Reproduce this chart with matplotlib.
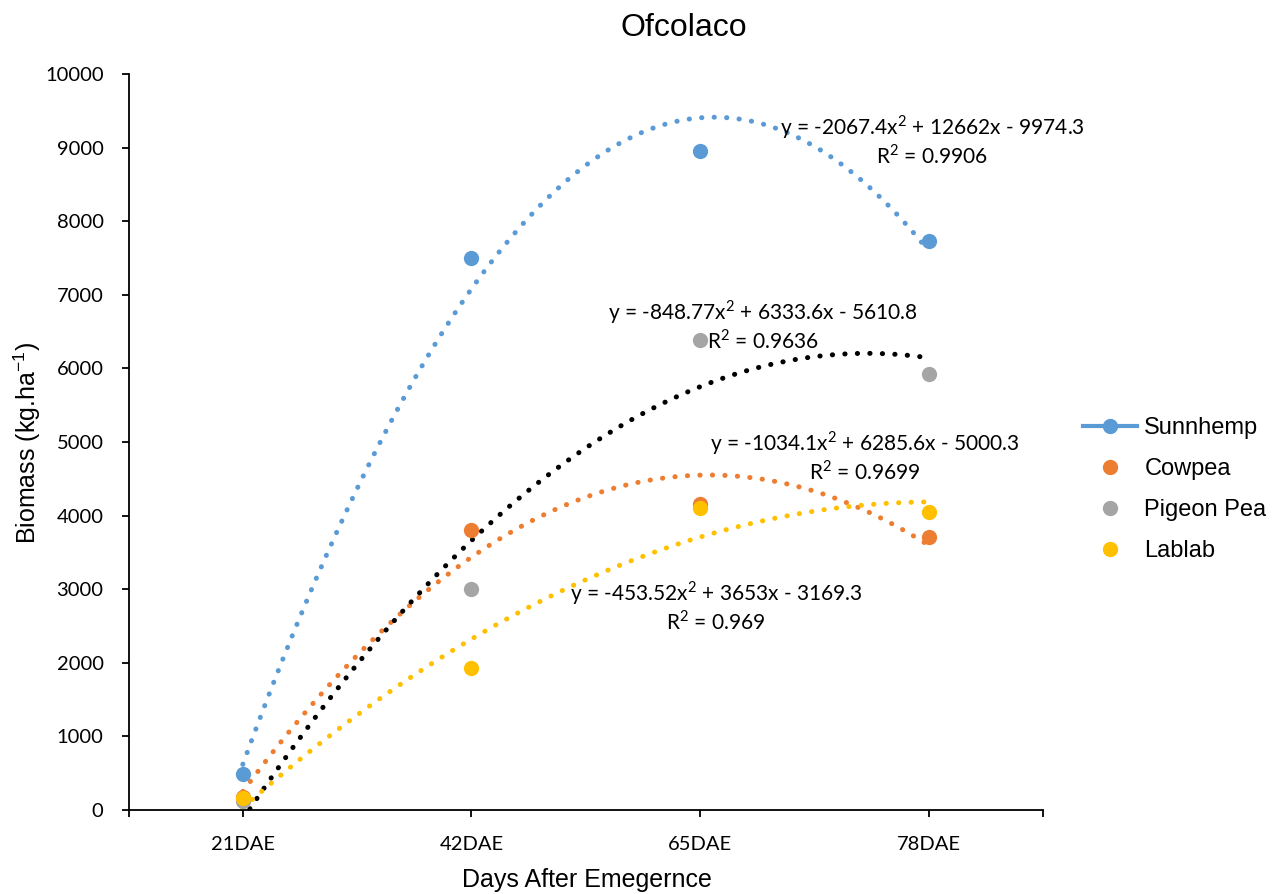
import matplotlib
matplotlib.use("Agg")
import matplotlib.pyplot as plt
from matplotlib.lines import Line2D
import numpy as np

# ---- data ----
stages = ["21DAE", "42DAE", "65DAE", "78DAE"]
sunnhemp = [490, 7500, 8960, 7730]
cowpea = [170, 3810, 4160, 3710]
pigeon_pea = [120, 3000, 6390, 5920]
lablab = [165, 1930, 4100, 4050]

# quadratic trendline coefficients (a, b, c) and R² per crop
sunnhemp_fit = [-2067.4, 12662, -9974.3]
cowpea_fit = [-1034.1, 6285.6, -5000.3]
pigeon_fit = [-848.77, 6333.6, -5610.8]
lablab_fit = [-453.52, 3653, -3169.3]
sunnhemp_r2 = "0.9906"
cowpea_r2 = "0.9699"
pigeon_r2 = "0.9636"
lablab_r2 = "0.969"

BLUE = "#5B9BD5"
ORANGE = "#ED7D31"
GREY = "#A5A5A5"
GOLD = "#FFC000"

TICK_FONT = "Lato"
LABEL_FONT = ["Liberation Sans", "DejaVu Sans"]

plt.rcParams["mathtext.fontset"] = "custom"
plt.rcParams["mathtext.rm"] = "Liberation Sans"

fig = plt.figure(figsize=(12.84, 8.94), dpi=100)
W, H = 1284, 894
ax = fig.add_axes([128.5 / W, (H - 810) / H, (1043 - 128.5) / W, 736 / H])

x = np.arange(1, len(stages) + 1)


def fmt(v):
    return f"{abs(v):g}"


def equation(coef):
    a, b, c = coef
    sa = "-" if a < 0 else ""
    sb = "-" if b < 0 else "+"
    sc = "-" if c < 0 else "+"
    return (f"y = {sa}{fmt(a)}x$^{{\\mathregular{{2}}}}$ {sb} {fmt(b)}x "
            f"{sc} {fmt(c)}")


series = [
    (sunnhemp, sunnhemp_fit, BLUE, BLUE, sunnhemp_r2),
    (cowpea, cowpea_fit, ORANGE, ORANGE, cowpea_r2),
    (pigeon_pea, pigeon_fit, GREY, "black", pigeon_r2),
    (lablab, lablab_fit, GOLD, GOLD, lablab_r2),
]

xs = np.linspace(1, 4, 400)
for vals, coef, mcol, tcol, r2 in series:
    a, b, c = coef
    ax.plot(xs, a * xs ** 2 + b * xs + c, color=tcol, lw=3.6,
            linestyle=(0, (0.05, 2.45)), dash_capstyle="round", zorder=2)
    ax.plot(x, vals, "o", color=mcol, markersize=11, zorder=3,
            markeredgewidth=0)

# trendline equation labels: centre of the equation line (data coords)
label_pos = [
    (4.015, 9280),
    (3.72, 4986),
    (3.276, 6766),
    (3.07, 2948),
]
for (lx, ly), (vals, coef, mcol, tcol, r2) in zip(label_pos, series):
    ax.text(lx, ly, equation(coef), ha="center", va="center", fontsize=15,
            family=TICK_FONT, zorder=5)
    ax.annotate(f"R$^{{\\mathregular{{2}}}}$ = {r2}", xy=(lx, ly),
                xytext=(0, -20.5), textcoords="offset points",
                ha="center", va="center", fontsize=15, family=TICK_FONT,
                zorder=5)

ax.set_xlim(0.5, 4.5)
ax.set_ylim(0, 10000)
ax.set_xticks(x)
ax.set_xticklabels(stages)
ax.set_xticks([0.5, 4.5], minor=True)
ax.set_yticks(np.arange(0, 10001, 1000))

for s in ["top", "right"]:
    ax.spines[s].set_visible(False)
for s in ["left", "bottom"]:
    ax.spines[s].set_linewidth(1.3)
    ax.spines[s].set_color("black")

ax.tick_params(axis="both", which="both", direction="out", length=5,
               width=1.3, color="black")
ax.tick_params(axis="x", pad=14)
ax.tick_params(axis="y", pad=13)
for lab in ax.get_xticklabels() + ax.get_yticklabels():
    lab.set_family(TICK_FONT)
    lab.set_fontsize(14.5)

fig.text(684 / W, 1 - 28 / H, "Ofcolaco", fontsize=23, family=LABEL_FONT,
         ha="center", va="center")
fig.text(587 / W, 1 - 880 / H, "Days After Emegernce", fontsize=18,
         family=LABEL_FONT, ha="center", va="center")
fig.text(27 / W, 1 - 443 / H, r"Biomass (kg.ha$^{\mathregular{-1}}$)",
         fontsize=18, family=LABEL_FONT, ha="center", va="center",
         rotation=90)

handles = [
    Line2D([], [], color=BLUE, lw=3, marker="o", markersize=10),
    Line2D([], [], color=ORANGE, lw=0, marker="o", markersize=10),
    Line2D([], [], color=GREY, lw=0, marker="o", markersize=10),
    Line2D([], [], color=GOLD, lw=0, marker="o", markersize=10),
]
names = ["Sunnhemp", "Cowpea", "Pigeon Pea", "Lablab"]
fig.legend(handles, names, loc="center left",
           bbox_to_anchor=(1083 / W, (H - 489.5) / H), frameon=False,
           prop={"family": LABEL_FONT, "size": 17}, handlelength=2.3,
           handletextpad=0.3, labelspacing=0.8, borderpad=0,
           borderaxespad=0)

fig.savefig("out.png", dpi=100)
